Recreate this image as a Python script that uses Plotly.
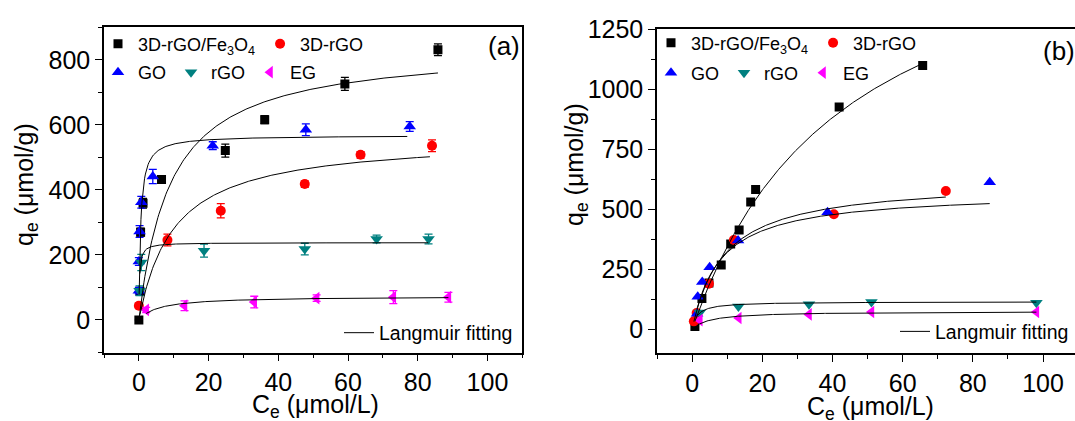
import numpy as np
import plotly.graph_objects as go

# ---------------- shared series styling ----------------
names = ["3D-rGO/Fe<sub>3</sub>O<sub>4</sub>", "3D-rGO", "GO", "rGO", "EG"]
colors = ["#000000", "#ff0000", "#0000ff", "#008080", "#ff00ff"]
symbols = ["square", "circle", "triangle-up", "triangle-down", "triangle-left"]
msizes = [9, 10, 11, 11, 11]

# ---------------- panel (a): Ce (umol/L), qe (umol/g), error ----------------
a_fe3o4_c = [0, 0.3, 0.5, 1.2, 6.5, 24.8, 36.1, 59.1, 85.8]
a_fe3o4_q = [0, 88, 270, 359, 432, 521, 616, 726, 831]
a_fe3o4_e = [0, 8, 12, 15, 12, 20, 12, 20, 18]

a_rgo3d_c = [0, 8.2, 23.5, 47.6, 63.6, 84.1]
a_rgo3d_q = [44, 246, 336, 418, 508, 536]
a_rgo3d_e = [8, 18, 22, 10, 10, 18]

a_go_c = [0, 0, 0.2, 0.7, 4.0, 21.2, 47.9, 77.7]
a_go_q = [90, 180, 272, 362, 441, 536, 585, 595]
a_go_e = [10, 12, 18, 18, 22, 12, 18, 15]

a_rgo_c = [0.2, 0.7, 18.7, 47.6, 68.2, 83.1]
a_rgo_q = [90, 177, 213, 218, 249, 249]
a_rgo_e = [15, 25, 20, 18, 12, 15]

a_eg_c = [2.1, 13.1, 33.1, 51.0, 73.0, 88.8]
a_eg_q = [31, 44, 55, 67, 70, 70]
a_eg_e = [8, 15, 18, 10, 20, 15]

# Langmuir parameters for panel (a): (q_max, K_L, C_start, C_end)
a_fits = [(840, 0.11, 0.0, 85.8),
          (562, 0.10, 0.3, 83.5),
          (568, 2.0, 0.08, 77.0),
          (238, 5.0, 0.3, 83.0),
          (73, 0.18, 2.1, 88.8)]

# ---------------- panel (b) ----------------
b_fe3o4_c = [0.8, 2.8, 4.8, 8.3, 11.0, 13.4, 16.7, 18.1, 41.9, 65.7]
b_fe3o4_q = [12, 128, 193, 268, 355, 413, 530, 582, 926, 1099]

b_rgo3d_c = [0.5, 1.3, 4.8, 11.9, 40.4, 72.3]
b_rgo3d_q = [33, 68, 190, 372, 479, 576]

b_go_c = [1.4, 1.6, 2.9, 5.0, 13.1, 38.6, 84.8]
b_go_q = [65, 135, 197, 258, 370, 487, 612]

b_rgo_c = [2.2, 13.2, 33.3, 51.1, 98.1]
b_rgo_q = [70, 95, 104, 114, 110]

b_eg_c = [2.2, 13.3, 33.3, 51.1, 98.1]
b_eg_q = [38, 47, 62, 72, 72]

b_fits = [(1840, 0.023, 0.8, 65.7),
          (620, 0.11, 0.5, 72.3),
          (572, 0.127, 1.4, 84.8),
          (115, 0.66, 1.5, 98.1),
          (75, 0.20, 2.0, 98.1)]

FONT = "Liberation Sans, Arial, sans-serif"


def langmuir(qmax, k, c):
    return qmax * k * c / (1 + k * c)


fig = go.Figure()

a_sets = [(a_fe3o4_c, a_fe3o4_q, a_fe3o4_e), (a_rgo3d_c, a_rgo3d_q, a_rgo3d_e),
          (a_go_c, a_go_q, a_go_e), (a_rgo_c, a_rgo_q, a_rgo_e),
          (a_eg_c, a_eg_q, a_eg_e)]
b_sets = [(b_fe3o4_c, b_fe3o4_q), (b_rgo3d_c, b_rgo3d_q), (b_go_c, b_go_q),
          (b_rgo_c, b_rgo_q), (b_eg_c, b_eg_q)]

# legend rows: first two series on the upper row, the rest below
row_a = ["legend", "legend", "legend2", "legend2", "legend2"]
row_b = ["legend3", "legend3", "legend4", "legend4", "legend4"]

for i, (c, q, e) in enumerate(a_sets):
    fig.add_trace(go.Scatter(
        x=c, y=q, mode="markers", name=names[i], legend=row_a[i],
        marker=dict(symbol=symbols[i], size=msizes[i], color=colors[i]),
        error_y=dict(type="data", array=e, visible=True, color=colors[i],
                     thickness=1.3, width=4),
        xaxis="x", yaxis="y"))

for i, (qm, k, c0, c1) in enumerate(a_fits):
    cc = np.linspace(c0, c1, 300)
    fig.add_trace(go.Scatter(
        x=cc, y=langmuir(qm, k, cc), mode="lines", name="Langmuir fitting",
        line=dict(color="#000000", width=1), legend="legend5",
        showlegend=(i == 0), xaxis="x", yaxis="y"))

for i, (c, q) in enumerate(b_sets):
    fig.add_trace(go.Scatter(
        x=c, y=q, mode="markers", name=names[i], legend=row_b[i],
        marker=dict(symbol=symbols[i], size=msizes[i], color=colors[i]),
        xaxis="x2", yaxis="y2"))

for i, (qm, k, c0, c1) in enumerate(b_fits):
    cc = np.linspace(c0, c1, 300)
    fig.add_trace(go.Scatter(
        x=cc, y=langmuir(qm, k, cc), mode="lines", name="Langmuir fitting",
        line=dict(color="#000000", width=1), legend="legend6",
        showlegend=(i == 0), xaxis="x2", yaxis="y2"))

W, H = 1075, 421


def px(x):
    return x / W


def py(y):
    return 1 - y / H


axis_common = dict(showline=True, linecolor="black", linewidth=1.5,
                   ticks="outside", ticklen=7, tickwidth=1.3, tickcolor="black",
                   showgrid=False, zeroline=False, automargin=False,
                   tickfont=dict(family=FONT, size=25, color="black"))

fig.update_layout(
    width=W, height=H,
    margin=dict(l=0, r=0, t=0, b=0, pad=0, autoexpand=False),
    paper_bgcolor="white", plot_bgcolor="white",
    xaxis=dict(domain=[px(104), px(522.3)], range=[-10, 110], dtick=20, tick0=0,
               mirror=True, anchor="y",
               minor=dict(dtick=10, ticklen=4, ticks="outside", tickcolor="black"),
               **axis_common),
    yaxis=dict(domain=[py(352.5), py(27.3)], range=[-100, 900], dtick=200, tick0=0,
               mirror=True, anchor="x",
               minor=dict(dtick=100, ticklen=4, ticks="outside", tickcolor="black"),
               **axis_common),
    xaxis2=dict(domain=[px(657), 1.0], range=[-10, 109.1], dtick=20, tick0=0,
                mirror=True, anchor="y2",
                minor=dict(dtick=10, ticklen=4, ticks="outside", tickcolor="black"),
                **axis_common),
    yaxis2=dict(domain=[py(353.3), py(29)], range=[-100, 1250.5], dtick=250, tick0=0,
                mirror=False, anchor="x2",
                minor=dict(dtick=125, ticklen=4, ticks="outside", tickcolor="black"),
                **axis_common),
    showlegend=True,
)

leg_common = dict(orientation="h", xanchor="left", yanchor="middle",
                  bgcolor="rgba(0,0,0,0)", borderwidth=0,
                  font=dict(family=FONT, size=18, color="black"))
fit_leg = {**leg_common, "font": dict(family=FONT, size=19.5, color="black")}
fig.update_layout(
    legend=dict(x=px(98), y=py(44), **leg_common),
    legend2=dict(x=px(98), y=py(72.5), **leg_common),
    legend3=dict(x=px(651), y=py(43), **leg_common),
    legend4=dict(x=px(651), y=py(73), **leg_common),
    legend5=dict(x=px(339), y=py(333), **fit_leg),
    legend6=dict(x=px(895), y=py(331.7), **fit_leg),
)

title_font = dict(family=FONT, size=25, color="black")
label_font = dict(family=FONT, size=26, color="black")


def note(text, x, y, font, angle=0):
    return dict(text=text, x=px(x), y=py(y), xref="paper", yref="paper",
                xanchor="center", yanchor="middle", textangle=angle,
                showarrow=False, font=font)


fig.update_layout(annotations=[
    note("q<sub>e</sub> (μmol/g)", 26, 185, title_font, -90),
    note("C<sub>e</sub> (μmol/L)", 315, 406, title_font),
    note("q<sub>e</sub> (μmol/g)", 576, 165, title_font, -90),
    note("C<sub>e</sub> (μmol/L)", 870, 408, title_font),
    note("(a)", 503.5, 45.5, label_font),
    note("(b)", 1059, 51, label_font),
])

fig.write_html("out.html")
